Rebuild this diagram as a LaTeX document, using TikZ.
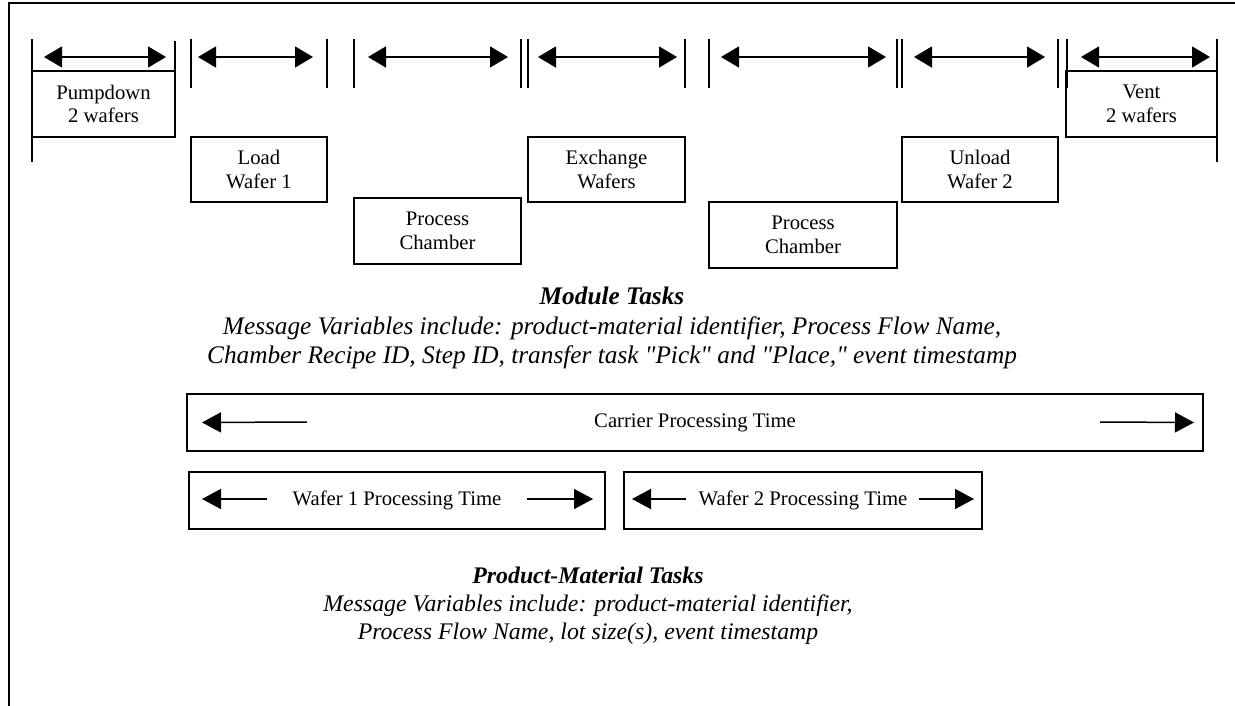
\documentclass[tikz,border=0pt]{standalone}
\usepackage{fontspec}
\setmainfont{Liberation Serif}[Ligatures=TeXOff]
\usetikzlibrary{arrows.meta}
\begin{document}
\begin{tikzpicture}[x=1pt,y=-1pt,inner sep=0pt,outer sep=0pt,line width=1.5pt,
taskbox/.style={draw,rectangle,align=center,line width=1.5pt,font=\fontsize{20.7}{23.5}\selectfont},
timebox/.style={draw,rectangle,line width=1.5pt,font=\fontsize{20.7}{23.5}\selectfont},
tick/.style={line width=2pt},
span/.style={{Triangle[length=18pt,width=21pt]}-{Triangle[length=18pt,width=21pt]},line width=1.5pt},
oneway/.style={-{Triangle[length=19pt,width=20pt]},line width=1.5pt}]
\useasboundingbox (0,0) rectangle (1235,706);
\draw (9,706) -- (9,3) -- (1235,3);
% module tasks
\draw (103.5,104) node[taskbox,minimum width=143pt,minimum height=66pt] (pump) {Pumpdown\\2 wafers};
\draw (259,169.5) node[taskbox,minimum width=136pt,minimum height=65pt] (load) {Load\\Wafer 1};
\draw (437.5,231) node[taskbox,minimum width=167pt,minimum height=66pt] (proca) {Process\\Chamber};
\draw (606.5,169.5) node[taskbox,minimum width=157pt,minimum height=65pt] (exch) {Exchange\\Wafers};
\draw (803,235) node[taskbox,minimum width=188pt,minimum height=66pt] (procb) {Process\\Chamber};
\draw (980,169.5) node[taskbox,minimum width=156pt,minimum height=65pt] (unload) {Unload\\Wafer 2};
\draw (1141.5,104) node[taskbox,minimum width=151pt,minimum height=66pt] (vent) {Vent\\2 wafers};
\draw[tick] (pump.south west) ++(0,25) -- ++(0,-123);
\draw[tick] (pump.north east) -- ++(0,-30);
\draw[tick] (vent.south east) ++(0,25) -- ++(0,-123);
\foreach \x in {191,327,354,521,528,685,709,897,902,1058,1067}
  \draw[tick] (\x,39) -- (\x,88);
\foreach \a/\b [count=\i] in {44/166,198/313,368/508,538/677,721/886,914/1045,1081/1210}
  {\coordinate (s\i) at (\a,57); \coordinate (e\i) at (\b,57);
   \draw[span] (s\i) -- (e\i);}
\draw (612,328) node[align=center,font=\fontsize{25.3}{29.5}\selectfont\itshape] (modtxt)
  {\textbf{Module Tasks}\\Message Variables include: product-material identifier, Process Flow Name,\\
   Chamber Recipe ID, Step ID, transfer task "Pick" and "Place," event timestamp};
% product-material tasks
\draw (695,422.5) node[timebox,minimum width=1016pt,minimum height=57pt] (carrier) {Carrier Processing Time};
\draw (397,500.5) node[timebox,minimum width=416pt,minimum height=57pt] (waf1) {Wafer 1 Processing Time};
\draw (803,500.5) node[timebox,minimum width=358pt,minimum height=57pt] (waf2) {Wafer 2 Processing Time};
\coordinate (cl) at (307,422); \coordinate (cr) at (1100,422);
\draw[oneway] (cl) -- (carrier.west -| 202,0);
\draw[oneway] (cr) -- (carrier.east -| 1194,0);
\coordinate (w1l) at (267,499); \coordinate (w1r) at (527,499);
\draw[oneway] (w1l) -- ++(-65,0);
\draw[oneway] (w1r) -- ++(66,0);
\coordinate (w2l) at (686,499); \coordinate (w2r) at (919,499);
\draw[oneway] (w2l) -- ++(-54,0);
\draw[oneway] (w2r) -- ++(55,0);
\draw (588,606) node[align=center,font=\fontsize{23.8}{28}\selectfont\itshape] (prodtxt)
  {\textbf{Product-Material Tasks}\\Message Variables include: product-material identifier,\\
   Process Flow Name, lot size(s), event timestamp};
\end{tikzpicture}
\end{document}
